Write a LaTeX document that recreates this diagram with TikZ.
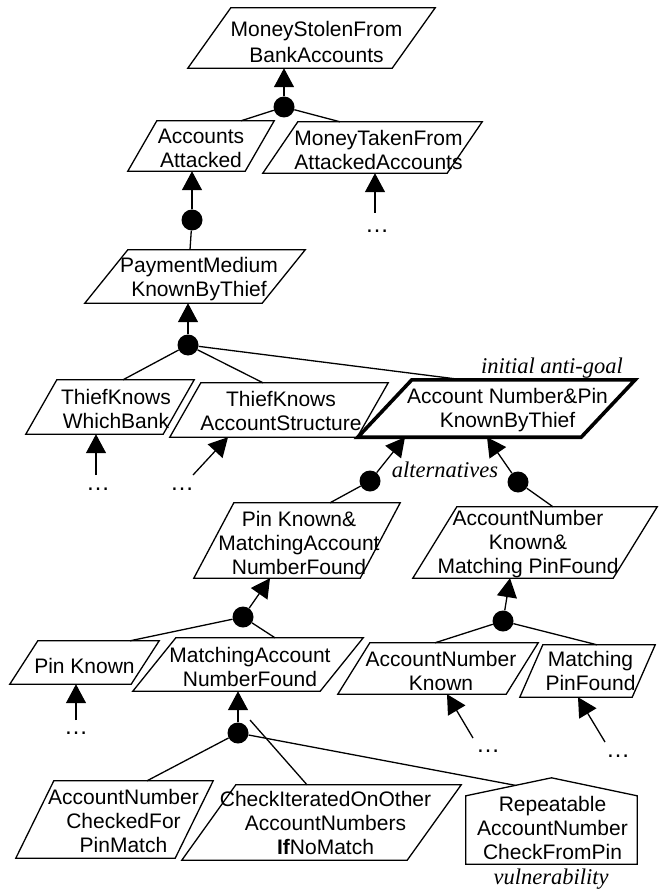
\documentclass[tikz,border=0pt]{standalone}
\usepackage{fontspec}
\setmainfont{Liberation Sans}
\newfontfamily\labserif{Liberation Serif}
\usetikzlibrary{arrows.meta,calc}
\tikzset{
  gframe/.style={rectangle, draw=none, inner sep=0pt},
  gline/.style={line width=1.3pt, line join=miter},
  gthick/.style={line width=3.6pt},
  gtext/.style={inner sep=0pt, align=center, font=\fontsize{21}{24}\selectfont},
  ln/.style={line width=1.3pt},
  arr/.style={line width=1.3pt, -{Triangle[length=19pt,width=20pt]}},
  andnode/.style={circle, fill=black, draw=none, inner sep=0pt, minimum size=21pt},
  dots/.style={inner sep=0pt, anchor=base, font=\fontsize{24}{26}\selectfont},
  lab/.style={inner sep=0pt, anchor=base, font=\labserif\itshape\fontsize{22.5}{26}\selectfont}
}
% #1 extra style, #2 name, #3 cx, #4 cy, #5 W, #6 H, #7 skew, #8 text offset, #9 text
\newcommand{\goalbox}[9][]{%
  \node[gframe, minimum width=#5pt, minimum height=#6pt] (#2) at (#3,#4) {};
  \draw[gline,#1] (#2.south west) -- ([xshift=#7pt]#2.north west) -- (#2.north east) -- ([xshift=-#7pt]#2.south east) -- cycle;
  \node[gtext] (#2-t) at ([shift={(#8)}]#2.center) {#9};
}
\begin{document}
\begin{tikzpicture}[x=1pt,y=-1pt]
\useasboundingbox[fill=white] (0,0) rectangle (659,890);

% goals
\goalbox{ms}{311.5}{38}{247}{60}{43}{5,3.5}{MoneyStolenFrom\\[2pt]BankAccounts}
\goalbox{aa}{201}{146}{146}{50}{29}{0,2.5}{Accounts\\Attacked}
\goalbox{mt}{372.5}{147.5}{219}{51}{35}{6,2.5}{MoneyTakenFrom\\AttackedAccounts}
\goalbox{pm}{195}{276.5}{220}{53}{43}{4,2.5}{PaymentMedium\\KnownByThief}
\goalbox{wb}{110}{407}{168}{54}{31}{6,2}{ThiefKnows\\WhichBank}
\goalbox{as}{279}{410}{218}{54}{31}{2,1}{ThiefKnows\\AccountStructure}
\goalbox[gthick]{ap}{496.5}{408.5}{277}{57}{54}{11,2}{Account Number\&Pin\\KnownByThief}
\goalbox{pk}{297}{540.5}{206}{75}{40}{2,2}{Pin Known\&\\MatchingAccount\\NumberFound}
\goalbox{ak}{535}{542.5}{244}{71}{44}{-7,1.5}{AccountNumber\\Known\&\\Matching PinFound}
\goalbox{pn}{84.5}{662.5}{149}{43}{28}{0,3}{Pin Known}
\goalbox{mn}{248}{664.5}{230}{53}{43}{2,2}{MatchingAccount\\NumberFound}
\goalbox{ank}{438}{668.5}{200}{51}{32}{3,2.5}{AccountNumber\\Known}
\goalbox{mp}{587.5}{671}{135}{52}{23}{3,0}{Matching\\PinFound}
\goalbox{ac}{114.5}{819.5}{197}{77}{38}{9,1.5}{AccountNumber\\CheckedFor\\PinMatch}
\goalbox{ci}{321.5}{822.5}{279}{75}{54}{4,0}{CheckIteratedOnOther\\AccountNumbers\\\textbf{If}NoMatch}

% vulnerability (house shape)
\node[gframe, minimum width=171pt, minimum height=68pt] (rp) at (551.5,830) {};
\coordinate (rpapex) at ([yshift=18pt]rp.north);
\draw[gline] (rp.south west) -- (rp.north west) -- (rpapex) -- (rp.north east) -- (rp.south east) -- cycle;
\node[gtext] (rp-t) at ([shift={(1,-2)}]rp.center) {Repeatable\\AccountNumber\\CheckFromPin};

% AND nodes
\node[andnode] (d1) at (284,107) {};
\node[andnode] (d2) at (192,220) {};
\node[andnode] (d3) at (188,345) {};
\node[andnode] (d4) at (370,481) {};
\node[andnode] (d5) at (518,482) {};
\node[andnode] (d6) at (243,617) {};
\node[andnode] (d7) at (503,621) {};
\node[andnode] (d8) at (238,733) {};

% refinement links
\draw[arr] (d1) -- (d1 |- ms.south);
\draw[ln] (d1) -- ([xshift=40pt]aa.north);
\draw[ln] (d1) -- ([xshift=-32.5pt]mt.north);

\draw[arr] (d2) -- (d2 |- aa.south);
\draw[ln] (d2) -- ([xshift=-5pt]pm.north);

\draw[arr] (d3) -- (d3 |- pm.south);
\draw[ln] (d3) -- ([xshift=13pt]wb.north);
\draw[ln] (d3) -- ([xshift=-16pt]as.north);
\draw[ln] (d3) -- ([xshift=-33.5pt]ap.north);

\draw[arr] (d4) -- ([xshift=-91.5pt]ap.south);
\draw[ln] (d4) -- ([xshift=33pt]pk.north);

\draw[arr] (d5) -- ([xshift=-9.5pt]ap.south);
\draw[ln] (d5) -- ([xshift=18pt]ak.north);

\draw[arr] (d6) -- ([xshift=-27pt]pk.south);
\draw[ln] (d6) -- ([xshift=45.5pt]pn.north);
\draw[ln] (d6) -- ([xshift=27pt]mn.north);

\draw[arr] (d7) -- ([xshift=-25pt]ak.south);
\draw[ln] (d7) -- ([xshift=-3pt]ank.north);
\draw[ln] (d7) -- ([xshift=9.5pt]mp.north);

\draw[arr] (d8) -- (d8 |- mn.south);
\draw[ln] (d8) -- ([xshift=32.5pt]ac.north);
\coordinate (cij) at (250,720);
\draw[ln] (cij) -- ([xshift=-14.5pt]ci.north);
\draw[ln] (d8) -- ($(rp.north west)!0.58!(rpapex)$);

% open-ended refinements
\coordinate (mtl) at (375,213);
\coordinate (wbl) at (96,475);
\coordinate (asl) at (193,475);
\coordinate (pnl) at (76,720);
\coordinate (ankl) at (473,738);
\coordinate (mpl) at (605,742);
\draw[arr] (mtl) -- (mtl |- mt.south);
\draw[arr] (wbl) -- (wbl |- wb.south);
\draw[arr] (asl) -- ([xshift=-51pt]as.south);
\draw[arr] (pnl) -- (pnl |- pn.south);
\draw[arr] (ankl) -- ([xshift=9pt]ank.south);
\draw[arr] (mpl) -- ([xshift=-9.5pt]mp.south);
\node[dots] (mtd) at (377,233) {…};
\node[dots] (wbd) at (98,490) {…};
\node[dots] (asd) at (182,490) {…};
\node[dots] (pnd) at (76,734) {…};
\node[dots] (ankd) at (488,752) {…};
\node[dots] (mpd) at (618,757) {…};

% annotations
\node[lab] (l1) at (552,373) {initial anti-goal};
\node[lab] (l2) at (445,477) {alternatives};
\node[lab] (l3) at (551,884) {vulnerability};
\end{tikzpicture}
\end{document}
